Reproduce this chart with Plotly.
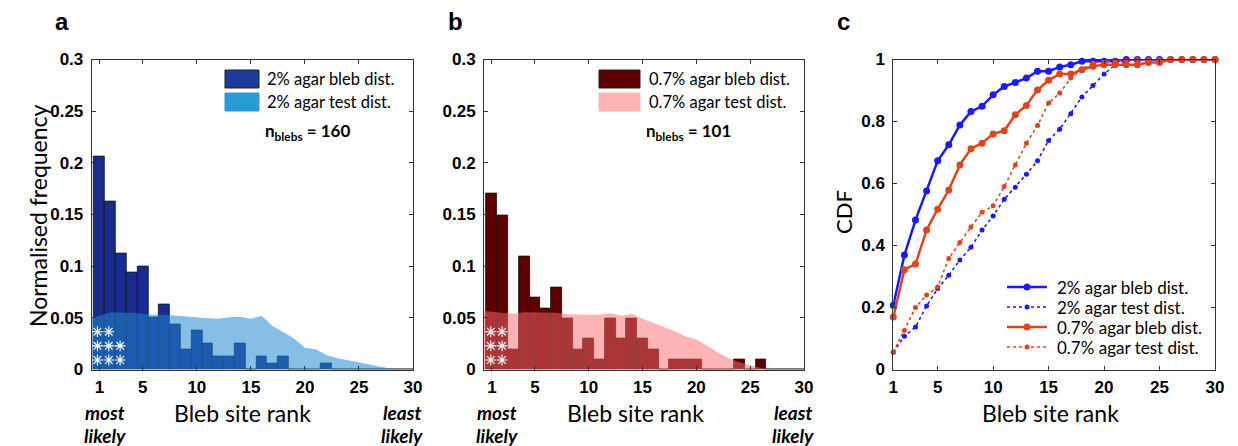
import plotly.graph_objects as go

W, H = 1238, 446

# ---------------- data ----------------
ranks = list(range(1, 31))
tick_vals = [1, 5, 10, 15, 20, 25, 30]

# panel a: 2% agar
bleb_2 = [0.206, 0.1625, 0.1125, 0.094, 0.1, 0.05, 0.0625, 0.044, 0.019, 0.0375,
          0.025, 0.0125, 0.0125, 0.025, 0, 0.0125, 0.00625, 0.0125, 0, 0,
          0, 0.00625, 0, 0, 0, 0, 0, 0, 0, 0]
test_2_x = [0.27] + ranks
test_2 = [0.05, 0.052, 0.0555, 0.0555, 0.055, 0.054, 0.053, 0.053, 0.052, 0.0515, 0.0505,
          0.0495, 0.049, 0.0505, 0.051, 0.049, 0.052, 0.042, 0.036, 0.030, 0.021,
          0.0195, 0.014, 0.011, 0.009, 0.007, 0.0045, 0.0028, 0.0008, 0, 0]

# panel b: 0.7% agar
bleb_07 = [0.17, 0.149, 0.0198, 0.109, 0.0693, 0.0594, 0.0792, 0.0495, 0.0198, 0.0297,
           0.0099, 0.0495, 0.0297, 0.0495, 0.0297, 0.0198, 0, 0.0099, 0.0099, 0.0099,
           0, 0, 0, 0.0099, 0, 0.0099, 0, 0, 0, 0]
test_07_x = [0.27] + ranks
test_07 = [0.0565, 0.056, 0.055, 0.054, 0.0555, 0.0555, 0.055, 0.055, 0.0535, 0.053, 0.053,
           0.053, 0.0545, 0.052, 0.054, 0.049, 0.045, 0.041, 0.037, 0.032, 0.029,
           0.023, 0.0165, 0.011, 0.007, 0.004, 0.0015, 0, 0, 0, 0]

# significance stars
stars_a_x = [0.8, 1.85, 0.8, 1.85, 2.9, 0.8, 1.85, 2.9]
stars_a_y = [0.0366, 0.0366, 0.0229, 0.0229, 0.0229, 0.0092, 0.0092, 0.0092]
stars_b_x = [0.9, 1.95, 0.9, 1.95, 0.9, 1.95]
stars_b_y = [0.0366, 0.0366, 0.0229, 0.0229, 0.0092, 0.0092]

# panel c: CDFs
cdf_bleb_2 = [0.207, 0.369, 0.482, 0.576, 0.673, 0.725, 0.789, 0.832, 0.849, 0.886,
              0.913, 0.926, 0.94, 0.962, 0.962, 0.976, 0.983, 0.994, 0.994, 0.994,
              0.994, 1, 1, 1, 1, 1, 1, 1, 1, 1]
cdf_test_2 = [0.056, 0.107, 0.137, 0.205, 0.261, 0.304, 0.353, 0.394, 0.45, 0.495,
              0.549, 0.588, 0.63, 0.673, 0.739, 0.775, 0.825, 0.879, 0.916, 0.953,
              0.983, 0.994, 1, 1, 1, 1, 1, 1, 1, 1]
cdf_bleb_07 = [0.169, 0.322, 0.34, 0.45, 0.517, 0.579, 0.66, 0.712, 0.73, 0.76,
               0.77, 0.822, 0.852, 0.902, 0.933, 0.953, 0.953, 0.967, 0.978, 0.983,
               0.983, 0.983, 0.983, 0.99, 0.99, 1, 1, 1, 1, 1]
cdf_test_07 = [0.056, 0.126, 0.2, 0.24, 0.266, 0.358, 0.41, 0.46, 0.507, 0.528,
               0.59, 0.66, 0.73, 0.787, 0.86, 0.892, 0.94, 0.969, 0.989, 0.994,
               0.996, 0.997, 1, 1, 1, 1, 1, 1, 1, 1]

legend_c = ["2% agar bleb dist.", "2% agar test dist.", "0.7% agar bleb dist.", "0.7% agar test dist."]

# ---------------- styling ----------------
NAVY = "#172c8e"
NAVY_LEG = "#1b3c9c"
BLUE_AREA = "rgba(33,135,209,0.54)"
BLUE_LEG = "#289bd7"
MAROON = "#5e0000"
PINK_AREA = "rgba(250,105,105,0.5)"
PINK_LEG = "#ffb4b4"
BLUE = "#1a1aff"
RED = "#e0441c"

TICKFONT = dict(family="Liberation Sans, Arial", size=17, color="black", weight="bold")
CAL = "Lato, Carlito, Calibri, sans-serif"


def px(x):
    return x / W


def py(y):
    return 1 - y / H


fig = go.Figure()

# panel a
fig.add_trace(go.Bar(x=ranks, y=bleb_2, width=1, marker=dict(color=NAVY, line=dict(color="#111", width=0.8)),
                     showlegend=False, xaxis="x", yaxis="y"))
fig.add_trace(go.Scatter(x=test_2_x, y=test_2, mode="lines", line=dict(width=0, color=BLUE_AREA),
                         fill="tozeroy", fillcolor=BLUE_AREA, showlegend=False, xaxis="x", yaxis="y"))
fig.add_trace(go.Scatter(x=stars_a_x, y=stars_a_y, mode="markers",
                         marker=dict(symbol="asterisk-open", size=9, color="white",
                                     line=dict(color="white", width=1.1)),
                         showlegend=False, xaxis="x", yaxis="y"))

# panel b
fig.add_trace(go.Bar(x=ranks, y=bleb_07, width=1, marker=dict(color=MAROON, line=dict(color="#111", width=0.8)),
                     showlegend=False, xaxis="x2", yaxis="y2"))
fig.add_trace(go.Scatter(x=test_07_x, y=test_07, mode="lines", line=dict(width=0, color=PINK_AREA),
                         fill="tozeroy", fillcolor=PINK_AREA, showlegend=False, xaxis="x2", yaxis="y2"))
fig.add_trace(go.Scatter(x=stars_b_x, y=stars_b_y, mode="markers",
                         marker=dict(symbol="asterisk-open", size=9, color="white",
                                     line=dict(color="white", width=1.1)),
                         showlegend=False, xaxis="x2", yaxis="y2"))

# panel c
c_series = [(cdf_bleb_2, BLUE, "solid"), (cdf_test_2, BLUE, "dot"),
            (cdf_bleb_07, RED, "solid"), (cdf_test_07, RED, "dot")]
for vals, col, dash in c_series:
    solid = dash == "solid"
    fig.add_trace(go.Scatter(x=ranks, y=vals, mode="lines+markers",
                             line=dict(color=col, width=2.5 if solid else 1.6, dash=dash),
                             marker=dict(size=7 if solid else 5, color=col),
                             cliponaxis=False, showlegend=False, xaxis="x3", yaxis="y3"))

ydom = [py(369.5), py(59.5)]
axis_common = dict(showline=True, linecolor="#333", linewidth=1, mirror="ticks", ticks="inside",
                   ticklen=4, tickcolor="#333", showgrid=False, zeroline=False, tickfont=TICKFONT,
                   automargin=False)
yt = [0, 0.05, 0.1, 0.15, 0.2, 0.25, 0.3]
ytt = ["0", "0.05", "0.1", "0.15", "0.2", "0.25", "0.3"]

fig.update_layout(
    width=W, height=H, margin=dict(l=0, r=0, t=0, b=0, pad=0, autoexpand=False),
    paper_bgcolor="white", plot_bgcolor="white", bargap=0, showlegend=False,
    xaxis=dict(domain=[px(91.7), px(413)], range=[0.27, 30], tickvals=tick_vals,
               anchor="y", ticklabelstandoff=2, **axis_common),
    yaxis=dict(domain=ydom, range=[0, 0.3], tickvals=yt, ticktext=ytt, anchor="x",
               ticklabelstandoff=4, **axis_common),
    xaxis2=dict(domain=[px(484), px(804)], range=[0.27, 30], tickvals=tick_vals,
                anchor="y2", ticklabelstandoff=2, **axis_common),
    yaxis2=dict(domain=ydom, range=[0, 0.3], tickvals=yt, ticktext=ytt, anchor="x2",
                ticklabelstandoff=4, **axis_common),
    xaxis3=dict(domain=[px(893.3), px(1215)], range=[1, 30], tickvals=tick_vals,
                anchor="y3", ticklabelstandoff=2, **axis_common),
    yaxis3=dict(domain=ydom, range=[0, 1], tickvals=[0, 0.2, 0.4, 0.6, 0.8, 1],
                ticktext=["0", "0.2", "0.4", "0.6", "0.8", "1"], anchor="x3",
                ticklabelstandoff=4, **axis_common),
)

ann = []
shapes = []


def text(x, y, s, size, family=CAL, angle=0, xanchor="center", color="black"):
    ann.append(dict(x=px(x), y=py(y), xref="paper", yref="paper", text=s, showarrow=False,
                    font=dict(family=family, size=size, color=color), textangle=angle,
                    xanchor=xanchor, yanchor="middle"))


# panel letters
for lx, lab in [(62, "a"), (455, "b"), (843, "c")]:
    text(lx, 21, "<b>" + lab + "</b>", 24, family="Liberation Sans, Arial")

text(38, 216, "Normalised frequency", 23, angle=-90)
text(843, 212, "CDF", 22, angle=-90)

for cx in [243, 635, 1050]:
    text(cx, 413, "Bleb site rank", 23)
for mx, lx in [(105, 402), (497, 793)]:
    text(mx, 412, "<b><i>most</i></b>", 19)
    text(mx, 435, "<b><i>likely</i></b>", 19)
    text(lx, 412, "<b><i>least</i></b>", 19)
    text(lx, 435, "<b><i>likely</i></b>", 19)

# legends for a and b
leg_rows = [
    (225, 259, 265, 263, [(NAVY_LEG, "2% agar bleb dist."), (BLUE_LEG, "2% agar test dist.")], "160"),
    (599, 640, 647, 644, [(MAROON, "0.7% agar bleb dist."), (PINK_LEG, "0.7% agar test dist.")], "101"),
]
for x0, x1, tx, nx, items, n in leg_rows:
    for i, (col, lab) in enumerate(items):
        y0 = 70 + i * 23
        shapes.append(dict(type="rect", xref="paper", yref="paper", x0=px(x0), x1=px(x1),
                           y0=py(y0 + 18), y1=py(y0), fillcolor=col,
                           line=dict(color="#222" if i == 0 else col, width=1)))
        text(tx, y0 + 9, lab, 16.5, xanchor="left")
    text(nx, 132, "<b>n<sub>blebs</sub> = " + n + "</b>", 17, xanchor="left")

# legend for c
for i, ((vals, col, dash), lab) in enumerate(zip(c_series, legend_c)):
    yy = 287 + i * 20
    solid = dash == "solid"
    shapes.append(dict(type="line", xref="paper", yref="paper", x0=px(1007), x1=px(1047),
                       y0=py(yy), y1=py(yy), line=dict(color=col, width=2.5 if solid else 1.6, dash=dash)))
    r = 3.5 if solid else 2.5
    shapes.append(dict(type="circle", xref="paper", yref="paper", x0=px(1027 - r), x1=px(1027 + r),
                       y0=py(yy + r), y1=py(yy - r), fillcolor=col, line=dict(color=col, width=0)))
    text(1055, yy, lab, 17, xanchor="left")

fig.update_layout(annotations=ann, shapes=shapes)

fig.write_html("out.html", config={"displayModeBar": False},
               post_script="document.body.style.margin='0px';document.body.style.padding='0px';"
                           "document.documentElement.style.overflow='hidden';")
